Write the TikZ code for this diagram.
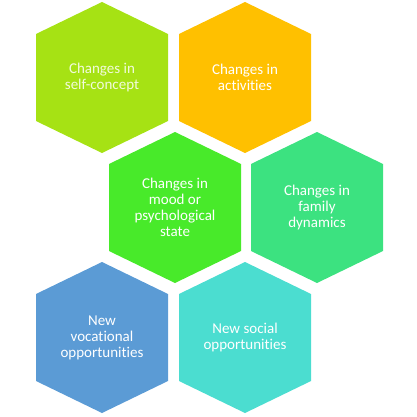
\documentclass[tikz,border=0pt]{standalone}
\usepackage{fontspec}
\setmainfont{Carlito}[RawFeature=-liga]
\definecolor{hexlime}{RGB}{166,226,20}
\definecolor{hexorange}{RGB}{255,192,0}
\definecolor{hexgreen}{RGB}{72,234,42}
\definecolor{hexmint}{RGB}{60,226,128}
\definecolor{hexblue}{RGB}{91,155,213}
\definecolor{hexcyan}{RGB}{75,221,208}
\begin{document}
\begin{tikzpicture}[x=1pt,y=1pt,
  hexlabel/.style={text=white, align=center, font=\fontsize{15}{16}\selectfont, inner sep=0pt},
  hexfill/.style={fill=#1, draw=none}]
\useasboundingbox (0,0) rectangle (417,416);
\coordinate (c1) at (102,338.5);
\coordinate (c2) at (245,338.5);
\coordinate (c3) at (175,208.5);
\coordinate (c4) at (317,208.5);
\coordinate (c5) at (102,78.5);
\coordinate (c6) at (245,78.5);
\foreach \c/\col in {c1/hexlime,c2/hexorange,c3/hexgreen,c4/hexmint,c5/hexblue,c6/hexcyan}{
  \path[hexfill=\col, shift={(\c)}] (0,75.5) -- (66,43.5) -- (66,-43.5) -- (0,-75.5) -- (-66,-43.5) -- (-66,43.5) -- cycle;
}
\node[hexlabel, text=white!85!hexlime] (t1) at (c1) {Changes in\\self-concept};
\node[hexlabel] (t2) at (c2) {Changes in\\activities};
\node[hexlabel] (t3) at (c3) {Changes in\\mood or\\psychological\\state};
\node[hexlabel] (t4) at (c4) {Changes in\\family\\dynamics};
\node[hexlabel] (t5) at (c5) {New\\vocational\\opportunities};
\node[hexlabel] (t6) at (c6) {New social\\opportunities};
\end{tikzpicture}
\end{document}
